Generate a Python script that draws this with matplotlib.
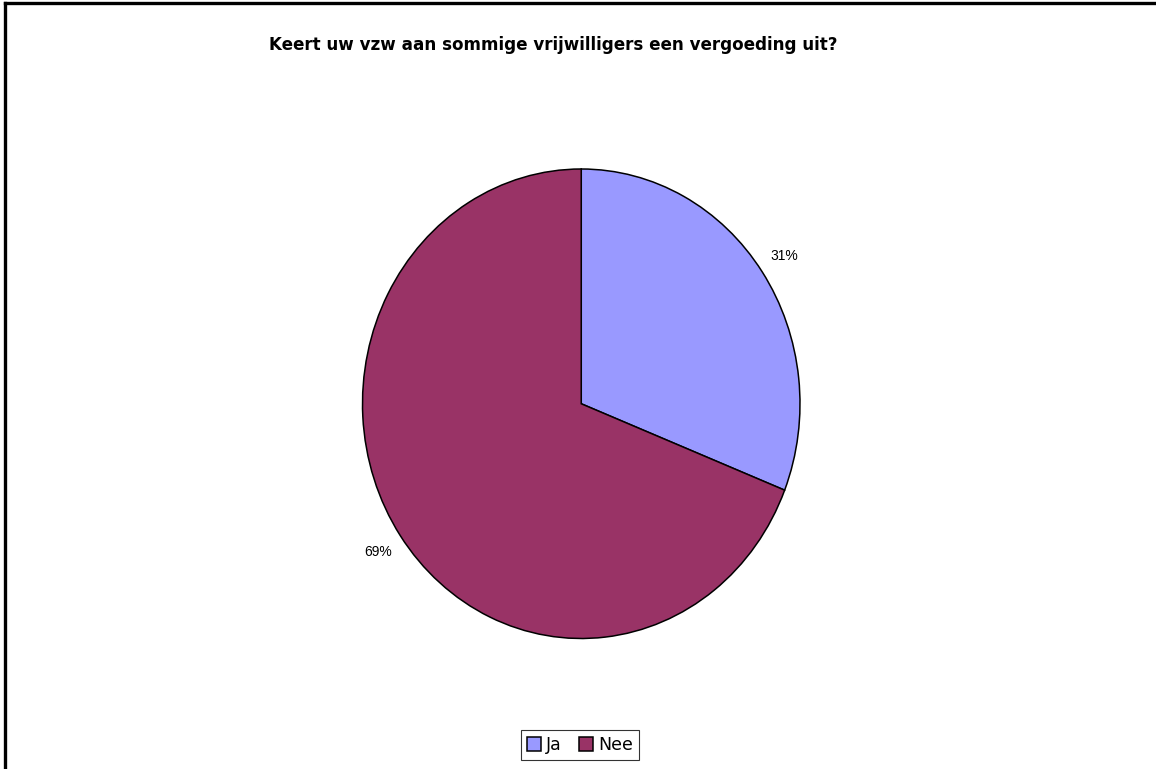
import matplotlib
matplotlib.use("Agg")
import matplotlib.pyplot as plt
from matplotlib.lines import Line2D

categories = ["Ja", "Nee"]
shares = [31, 69]
colors = ["#9999FF", "#993366"]
title = "Keert uw vzw aan sommige vrijwilligers een vergoeding uit?"

W, H = 1156, 769
fig = plt.figure(figsize=(W / 100, H / 100), dpi=100)

# frame lines along the top and left of the chart area
fig.add_artist(Line2D([5 / W, 5 / W], [0, 1 - 3 / H], color="black", lw=2.4,
                      transform=fig.transFigure))
fig.add_artist(Line2D([5 / W, 1], [1 - 3 / H, 1 - 3 / H], color="black", lw=2.4,
                      transform=fig.transFigure))

fig.text(553 / W, 1 - 45 / H, title, ha="center", va="center",
         fontsize=12.1, fontweight="bold", family="DejaVu Sans")

# pie area (slightly taller than wide)
left, right, top, bottom = 362.5, 800, 169, 638.5
ax = fig.add_axes([left / W, 1 - bottom / H, (right - left) / W, (bottom - top) / H])
wedges, texts, autotexts = ax.pie(
    shares, colors=colors, startangle=90, counterclock=False,
    autopct=lambda p: f"{p:.0f}%", pctdistance=1.12,
    wedgeprops=dict(edgecolor="black", linewidth=1.1),
    textprops=dict(fontsize=10, family="Liberation Sans", color="black"),
)
ax.set_aspect("auto")
ax.set_xlim(-1, 1)
ax.set_ylim(-1, 1)
ax.axis("off")

leg = fig.legend(wedges, categories, loc="center", bbox_to_anchor=(580 / W, 1 - 745 / H),
                 ncol=2, frameon=True, fancybox=False, edgecolor="black",
                 prop=dict(family="DejaVu Sans", size=12.5),
                 handlelength=0.8, handleheight=0.8, handletextpad=0.3,
                 columnspacing=1.0, borderpad=0.35, borderaxespad=0)
leg.get_frame().set_linewidth(0.8)

fig.savefig("out.png", dpi=100)
